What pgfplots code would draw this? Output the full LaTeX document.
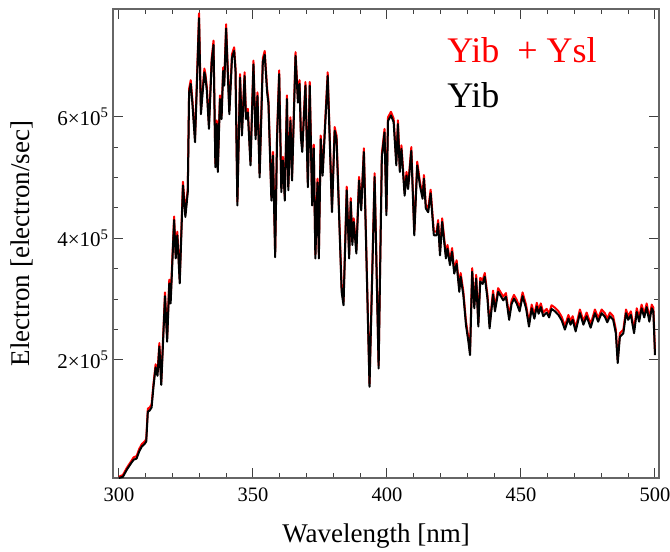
\documentclass[border=0pt]{standalone}
\usepackage{pgfplots}
\pgfplotsset{compat=1.18}
\usepackage{pgfplotstable}
\usepackage{fontspec}
\setmainfont{Liberation Serif}

\pgfplotstableread{
x b r
300.0 0.06 0.08
301.5 0.08 0.11
303.0 0.20 0.23
304.5 0.30 0.33
305.5 0.36 0.40
306.6 0.38 0.42
307.6 0.50 0.54
308.6 0.58 0.62
309.6 0.62 0.66
310.2 0.66 0.70
310.8 1.15 1.20
311.5 1.17 1.22
312.2 1.22 1.27
312.9 1.56 1.61
313.7 1.88 1.93
314.4 1.74 1.79
315.1 2.22 2.28
315.8 1.59 1.64
317.2 3.05 3.11
318.0 2.30 2.36
318.8 3.26 3.32
319.3 2.93 2.99
320.6 4.30 4.36
321.2 3.67 3.73
321.8 4.05 4.11
322.7 3.26 3.32
323.9 4.87 4.93
324.8 4.35 4.41
325.7 4.76 4.82
326.2 6.40 6.46
326.8 6.54 6.60
327.4 6.23 6.29
328.4 5.58 5.64
329.9 7.62 7.70
330.6 6.04 6.10
331.1 6.32 6.38
331.9 6.73 6.79
332.3 6.64 6.70
332.8 6.43 6.49
333.6 5.80 5.86
334.6 6.89 6.95
335.3 7.18 7.25
336.0 5.17 5.23
336.5 5.88 5.94
336.9 5.09 5.15
337.7 6.29 6.35
338.3 5.96 6.02
338.9 6.75 6.81
339.3 6.51 6.57
340.0 7.45 7.52
341.2 6.04 6.10
342.2 6.97 7.03
343.0 7.08 7.14
343.5 6.75 6.81
344.2 4.54 4.60
345.2 6.64 6.70
345.9 5.69 5.75
346.9 6.67 6.73
347.4 5.96 6.02
348.1 6.07 6.13
349.1 5.20 5.26
350.2 6.86 6.92
351.0 5.63 5.69
351.7 6.34 6.40
352.5 5.00 5.06
353.7 6.90 6.96
354.4 7.02 7.08
355.3 6.40 6.46
355.8 6.21 6.27
356.9 4.62 4.68
357.5 5.36 5.42
358.3 3.69 3.75
359.0 5.63 5.69
359.8 6.70 6.76
360.6 4.76 4.82
361.2 5.28 5.34
361.9 4.62 4.68
362.7 6.29 6.35
363.2 4.79 4.85
364.0 5.93 5.99
364.6 4.95 5.01
365.9 7.00 7.06
366.8 6.23 6.29
367.4 6.54 6.60
367.9 5.66 5.72
368.4 5.42 5.48
369.6 6.51 6.57
370.5 4.84 4.90
371.2 6.51 6.57
372.1 4.54 4.60
372.7 5.48 5.54
373.3 3.67 3.73
374.1 4.92 4.98
374.6 3.67 3.73
375.3 5.63 5.69
376.0 5.03 5.09
377.9 6.67 6.73
379.5 4.43 4.49
380.5 5.77 5.83
381.2 5.63 5.69
383.1 3.12 3.18
383.8 2.90 2.96
385.0 4.79 4.85
385.9 3.67 3.73
386.5 4.60 4.66
387.1 3.89 3.95
387.6 4.27 4.33
388.6 3.75 3.81
389.6 4.95 5.01
390.4 4.46 4.52
391.4 5.42 5.48
393.5 1.56 1.61
395.4 5.01 5.07
396.9 1.86 1.91
398.1 5.33 5.39
399.1 5.74 5.80
399.8 4.38 4.44
400.4 5.93 5.99
401.5 6.02 6.08
402.5 5.91 5.97
403.5 5.20 5.26
404.1 5.88 5.94
404.8 5.09 5.15
405.4 5.47 5.53
406.6 4.70 4.76
407.3 5.03 5.09
407.9 4.81 4.87
409.1 5.44 5.50
410.2 4.05 4.11
411.3 5.20 5.26
412.3 4.87 4.93
413.3 4.65 4.71
413.8 4.98 5.04
414.5 4.49 4.55
415.4 4.43 4.49
416.3 4.74 4.80
417.5 4.05 4.11
418.5 4.05 4.11
419.1 4.24 4.30
419.8 3.72 3.78
420.6 4.27 4.33
422.0 3.67 3.73
422.6 3.83 3.89
423.5 3.56 3.62
424.3 3.78 3.84
425.1 3.42 3.48
426.0 3.58 3.64
427.0 3.12 3.18
427.5 3.37 3.43
428.5 3.07 3.13
429.5 2.57 2.63
430.4 2.30 2.36
431.0 2.08 2.14
431.8 3.45 3.51
432.6 2.85 2.91
433.3 3.34 3.40
434.1 2.55 2.61
434.8 3.29 3.35
435.7 3.25 3.31
436.5 3.37 3.43
437.5 3.01 3.07
438.3 2.52 2.58
439.6 3.08 3.14
440.3 2.80 2.86
441.5 3.12 3.18
442.2 3.07 3.13
443.4 2.98 3.04
444.4 3.04 3.10
445.6 2.66 2.72
446.5 2.92 2.98
447.4 3.01 3.07
448.4 2.93 2.99
449.5 2.80 2.86
450.6 3.05 3.11
451.9 2.85 2.91
453.0 2.55 2.61
454.0 2.85 2.91
455.0 2.68 2.74
455.9 2.88 2.94
456.6 2.76 2.82
457.4 2.87 2.93
458.3 2.72 2.78
459.6 2.78 2.84
460.5 2.70 2.76
461.4 2.84 2.90
462.7 2.80 2.86
464.0 2.74 2.80
465.2 2.65 2.71
466.4 2.50 2.56
467.7 2.68 2.74
468.5 2.58 2.64
469.3 2.66 2.72
470.4 2.47 2.53
472.0 2.77 2.83
473.3 2.58 2.64
474.5 2.72 2.78
476.0 2.53 2.59
477.6 2.77 2.83
478.8 2.63 2.69
480.1 2.77 2.83
481.3 2.71 2.77
482.2 2.62 2.68
483.2 2.72 2.78
484.4 2.66 2.72
485.4 2.44 2.50
486.1 1.95 2.00
486.9 2.38 2.44
488.2 2.44 2.50
489.2 2.77 2.83
490.0 2.66 2.72
491.0 2.74 2.80
492.2 2.44 2.50
493.2 2.79 2.85
494.1 2.63 2.69
495.0 2.85 2.91
496.0 2.70 2.76
496.9 2.87 2.93
497.9 2.63 2.69
498.8 2.85 2.91
499.4 2.80 2.86
500.0 2.08 2.14
}\spec

\begin{document}
\begin{tikzpicture}
\useasboundingbox (-113pt,-74pt) rectangle (557pt,478pt);
\begin{axis}[
  at={(0pt,0pt)}, anchor=south west,
  scale only axis, width=546pt, height=469pt,
  xmin=297.8, xmax=501.5, ymin=0.06, ymax=7.77,
  xtick={300,350,400,450,500},
  xticklabels={300,350,400,450,500},
  minor x tick num=4,
  ytick={2,4,6},
  yticklabels={2×10\textsuperscript{5},4×10\textsuperscript{5},6×10\textsuperscript{5}},
  minor y tick num=3,
  major tick length=10pt, minor tick length=5pt,
  tick style={line width=1pt, black!75},
  axis line style={line width=1.3pt, black!60},
  xticklabel style={font=\fontsize{20.5}{23}\selectfont, yshift=-6pt},
  yticklabel style={font=\fontsize{21}{23}\selectfont, xshift=-1pt},
  xlabel={Wavelength [nm]},
  ylabel={Electron [electron/sec]},
  label style={font=\fontsize{27}{30}\selectfont},
  x label style={at={(axis description cs:0.482,-0.124)}, anchor=center},
  y label style={at={(axis description cs:-0.167,0.5)}, anchor=center},
]
\addplot[red, line width=2pt, line join=round] table[x=x,y=r]{\spec};
\addplot[black, line width=2pt, line join=round] table[x=x,y=b]{\spec};
\node[anchor=base west, inner sep=0pt, text=red, font=\fontsize{36}{40}\selectfont] at (rel axis cs:0.612,0.885) {Yib\ \ + Ysl};
\node[anchor=base west, inner sep=0pt, text=black, font=\fontsize{36}{40}\selectfont] at (rel axis cs:0.612,0.789) {Yib};
\end{axis}
\end{tikzpicture}
\end{document}
